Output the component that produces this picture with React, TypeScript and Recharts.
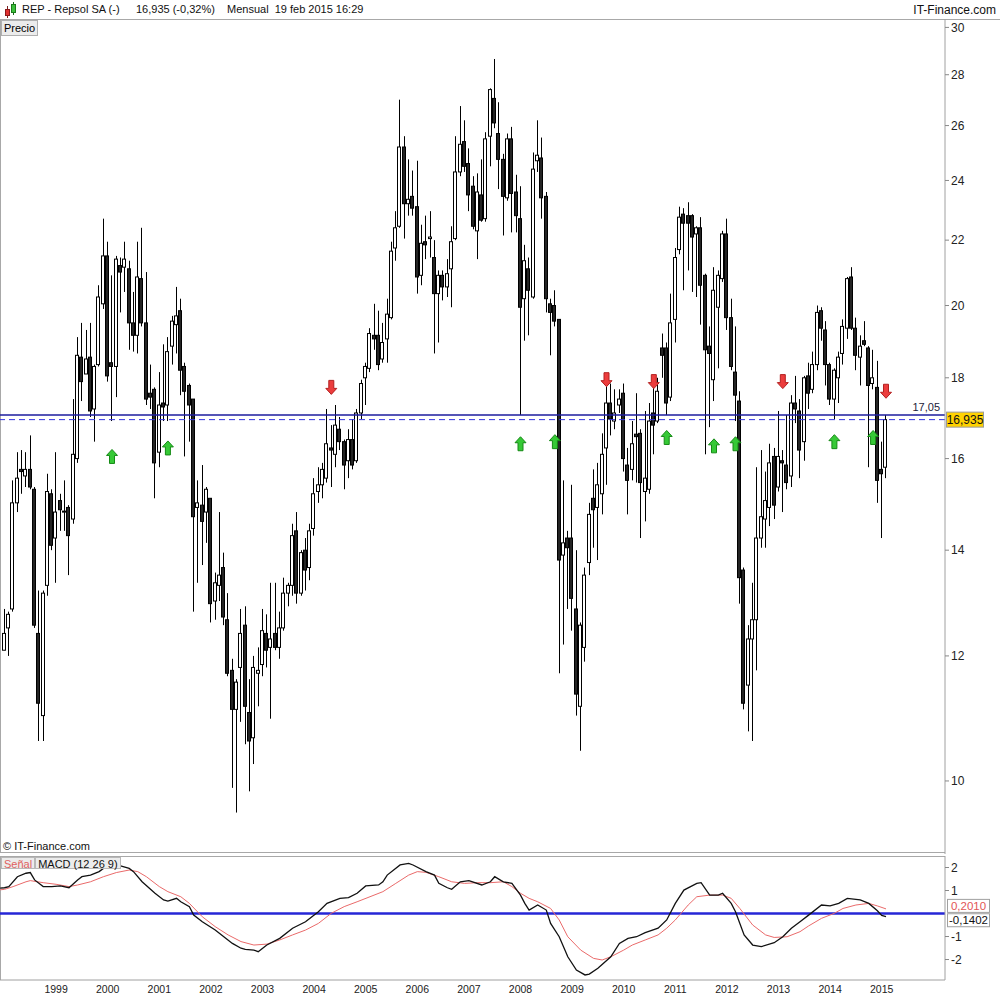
import React from "react";
import { ComposedChart, Bar, Scatter, Line, XAxis, YAxis, ReferenceLine } from "recharts";

const FONT = '"Liberation Sans", Arial, sans-serif';

// monthly candles, Jan 1998 .. Feb 2015 (index 1..206)
const opens = [
  12.1, 12.5, 12.85, 15.0, 15.75, 15.6, 15.75, 15.3, 12.4, 11.0,
  13.3, 15.2, 14.25, 15.05, 14.8, 14.9, 14.65, 16.0, 18.55, 18.1,
  18.55, 17.2, 18.35, 20.05, 21.5, 18.4, 18.3, 21.2, 21.15, 21.1,
  19.5, 19.15, 20.8, 19.5, 17.6, 17.7, 16.15, 17.35, 17.3, 18.85,
  19.45, 19.85, 18.3, 17.8, 17.45, 14.9, 14.95, 14.8, 15.1, 13.0,
  13.3, 13.65, 12.65, 11.75, 11.1, 11.8, 12.55, 11.05, 10.65, 11.7,
  11.85, 12.4, 12.15, 12.4, 12.15, 12.5, 13.15, 13.3, 14.4, 13.15,
  14.0, 13.65, 14.45, 15.25, 15.4, 15.55, 16.25, 16.1, 16.7, 16.4,
  15.95, 16.45, 15.95, 17.1, 18.0, 18.25, 19.15, 19.15, 18.5, 19.05,
  19.65, 21.75, 22.45, 25.2, 23.2, 23.45, 23.1, 20.9, 21.95, 22.05,
  21.45, 20.35, 20.9, 20.55, 21.1, 22.05, 24.3, 25.4, 24.6, 23.8,
  22.3, 23.5, 22.7, 25.6, 27.05, 25.7, 24.75, 23.4, 25.5, 23.6,
  22.7, 20.2, 21.1, 20.25, 24.7, 24.8, 23.45, 20.05, 20.0, 19.6,
  13.9, 14.25, 14.25, 12.85, 11.15, 12.15, 13.75, 15.1, 14.9, 15.2,
  16.25, 17.35, 16.9, 17.3, 17.6, 15.85, 15.75, 16.58, 16.6, 15.25,
  15.3, 17.1, 16.9, 18.8, 18.8, 17.5, 19.6, 21.7, 22.85, 22.8,
  22.8, 22.2, 22.4, 20.9, 18.85, 17.95, 19.95, 20.8, 22.2, 19.65,
  18.15, 17.4, 13.6, 11.5, 12.3, 12.65, 14.25, 14.65, 14.9, 16.05,
  15.35, 15.95, 15.85, 15.6, 17.35, 17.15, 16.4, 18.05, 17.7, 18.35,
  19.85, 19.3, 18.35, 17.45, 18.0, 18.65, 19.35, 20.85, 19.35, 18.55,
  19.0, 18.8, 17.85, 17.75, 15.75, 15.8,
];
const highs = [
  12.85, 12.8, 15.5, 16.15, 16.2, 16.15, 16.55, 15.35, 13.2, 13.2,
  15.65, 15.3, 16.15, 15.2, 15.5, 14.95, 17.45, 19.1, 19.5, 19.3,
  19.5, 18.35, 20.6, 22.7, 21.95, 20.9, 21.5, 21.45, 21.95, 21.35,
  20.4, 21.95, 22.4, 21.0, 18.35, 17.75, 18.15, 18.9, 19.1, 19.7,
  20.55, 20.2, 18.4, 17.85, 17.45, 15.5, 15.85, 15.35, 15.1, 13.55,
  14.8, 13.95, 13.15, 11.95, 11.6, 12.85, 12.9, 11.6, 12.0, 12.15,
  12.85, 12.75, 13.35, 13.35, 12.8, 13.45, 13.35, 14.55, 14.8, 14.0,
  14.25, 14.55, 15.55, 15.8, 15.9, 17.2, 16.8, 17.3, 17.0, 16.45,
  16.7, 16.95, 17.2, 17.95, 18.4, 19.35, 20.05, 19.85, 19.5, 20.2,
  21.95, 22.95, 27.0, 25.6, 24.75, 24.35, 24.7, 22.5, 22.8, 22.95,
  22.0, 21.05, 21.05, 21.4, 22.45, 25.6, 26.75, 26.2, 25.15, 24.15,
  24.25, 24.75, 25.75, 27.45, 28.65, 26.9, 24.95, 25.7, 25.95, 24.2,
  23.8, 21.85, 21.45, 25.0, 26.2, 25.55, 23.6, 20.2, 20.45, 19.6,
  15.5, 14.4, 15.4, 14.0, 12.6, 13.65, 15.0, 15.75, 15.9, 16.6,
  17.8, 17.85, 17.7, 17.7, 17.85, 16.25, 16.9, 17.6, 16.7, 17.15,
  17.35, 17.75, 18.0, 19.2, 18.95, 20.35, 21.75, 23.1, 23.05, 23.25,
  22.85, 22.45, 22.75, 20.95, 19.4, 21.15, 21.05, 22.3, 22.7, 20.2,
  19.4, 17.65, 13.65, 12.55, 13.35, 15.8, 16.2, 15.7, 16.35, 16.25,
  17.15, 16.2, 17.05, 17.55, 18.05, 17.45, 18.05, 18.4, 18.7, 20.0,
  19.95, 19.55, 18.4, 18.25, 18.7, 19.6, 20.85, 21.15, 19.65, 19.15,
  19.55, 18.85, 18.75, 18.45, 16.4, 17.05,
];
const lows = [
  12.1, 12.0, 12.8, 14.8, 15.2, 15.35, 15.3, 12.5, 10.6, 10.6,
  13.1, 14.0, 13.35, 14.4, 14.4, 13.5, 14.55, 15.9, 17.4, 18.1,
  17.0, 16.4, 18.3, 19.9, 17.9, 16.9, 17.5, 19.8, 20.4, 18.75,
  18.7, 18.65, 19.4, 17.3, 17.2, 15.1, 15.8, 16.9, 16.9, 18.35,
  18.65, 17.55, 16.05, 16.4, 12.8, 13.35, 13.7, 14.15, 12.6, 12.65,
  13.0, 12.55, 11.65, 9.9, 9.55, 10.9, 10.55, 9.85, 10.25, 11.15,
  11.65, 11.8, 10.95, 12.1, 11.95, 12.45, 12.9, 13.1, 12.95, 13.1,
  13.2, 13.4, 14.3, 15.0, 15.1, 15.45, 15.35, 15.8, 16.2, 15.3,
  15.55, 15.75, 15.9, 16.95, 17.3, 18.15, 18.75, 18.2, 18.4, 18.4,
  19.6, 21.35, 22.4, 22.05, 22.8, 22.8, 20.35, 20.6, 21.4, 21.45,
  18.65, 18.95, 20.15, 20.25, 19.95, 22.0, 24.15, 24.3, 22.95, 22.35,
  21.4, 22.6, 22.6, 24.5, 25.9, 23.7, 22.15, 23.3, 22.25, 22.25,
  17.05, 19.0, 19.15, 20.2, 24.3, 22.7, 19.8, 18.6, 19.4, 11.7,
  12.2, 12.85, 12.45, 11.0, 10.45, 11.9, 13.5, 14.05, 13.8, 14.75,
  15.4, 16.55, 16.7, 17.1, 15.7, 14.75, 15.5, 15.45, 14.25, 14.6,
  15.2, 16.1, 16.85, 18.0, 17.05, 17.4, 18.95, 21.55, 20.45, 21.05,
  20.4, 20.25, 19.45, 16.1, 16.75, 17.4, 18.25, 20.7, 19.3, 18.2,
  16.9, 12.95, 11.1, 10.75, 10.6, 11.75, 14.05, 14.05, 14.5, 14.65,
  15.25, 14.8, 15.3, 15.35, 16.85, 15.55, 15.95, 17.2, 17.6, 18.2,
  19.0, 17.8, 17.3, 16.95, 17.35, 18.35, 19.05, 19.3, 18.2, 17.8,
  18.85, 15.8, 17.7, 15.0, 14.25, 15.55,
];
const closes = [
  12.4, 12.75, 15.0, 15.55, 15.7, 15.75, 15.35, 12.55, 11.2, 13.15,
  15.25, 14.1, 14.8, 14.85, 14.82, 14.3, 16.1, 18.6, 17.9, 18.5,
  17.15, 18.3, 20.25, 21.5, 18.05, 18.3, 21.4, 21.0, 21.4, 19.5,
  19.15, 20.85, 19.5, 17.45, 17.5, 15.9, 17.3, 17.25, 18.7, 19.55,
  19.7, 18.2, 17.65, 17.3, 14.7, 15.0, 14.6, 15.3, 12.95, 13.35,
  13.5, 12.7, 11.7, 11.1, 11.55, 12.4, 11.15, 10.6, 11.8, 11.75,
  12.45, 12.1, 12.3, 12.15, 12.5, 13.15, 13.3, 14.3, 13.15, 13.95,
  13.6, 14.4, 15.2, 15.4, 15.75, 16.35, 16.2, 16.8, 16.4, 15.85,
  16.45, 15.85, 17.1, 17.85, 18.3, 19.2, 19.05, 18.35, 18.95, 19.75,
  21.65, 22.4, 25.2, 23.2, 23.35, 23.05, 20.85, 21.9, 21.85, 22.1,
  20.35, 20.9, 20.55, 20.95, 21.95, 24.3, 25.3, 24.5, 23.5, 22.45,
  23.6, 22.65, 25.5, 27.4, 26.1, 24.75, 23.45, 25.5, 23.55, 22.8,
  19.95, 21.35, 20.45, 24.4, 24.9, 23.4, 20.2, 19.8, 19.55, 13.8,
  14.15, 14.05, 13.05, 11.35, 12.55, 13.5, 14.75, 14.85, 15.4, 16.1,
  17.35, 16.95, 17.1, 17.45, 16.0, 15.5, 16.35, 16.52, 15.45, 15.55,
  16.9, 16.8, 17.65, 18.6, 17.35, 19.5, 21.45, 22.75, 22.55, 22.55,
  22.1, 22.4, 20.6, 18.75, 18.65, 20.45, 20.9, 22.2, 19.65, 18.3,
  17.55, 13.45, 11.2, 12.3, 12.65, 14.25, 14.7, 15.05, 15.9, 14.95,
  16.05, 15.9, 15.45, 17.35, 17.2, 16.2, 18.0, 17.6, 18.35, 19.8,
  19.35, 18.35, 17.45, 18.2, 18.55, 19.4, 20.8, 19.35, 18.6, 18.85,
  18.9, 17.8, 18.0, 15.5, 15.65, 16.935,
];

// signal arrows: [candle index, level]
const buySignals = [[26, 16.05], [39, 16.25], [121, 16.35], [129, 16.4], [155, 16.5], [166, 16.3], [171, 16.35], [194, 16.4], [203, 16.5]];
const sellSignals = [[77, 17.75], [141, 17.95], [152, 17.9], [182, 17.9], [206, 17.65]];

const refLevel = 17.05;
const lastPrice = 16.935;

// MACD (12 26 9): [candle index, value]
const macdLine = [
  [0, 1.1], [1, 1.12], [2, 1.17], [4, 1.6], [6, 1.75], [7, 1.78], [8, 1.46], [10, 1.17], [12, 1.17], [14, 1.2], [16, 1.12],
  [18, 1.46], [19, 1.6], [21, 1.67], [23, 1.82], [24, 1.96], [26, 2.04], [28, 2.07], [30, 1.96], [31, 1.82], [33, 1.38],
  [36, 0.88], [38, 0.59], [39, 0.54], [41, 0.66], [42, 0.51], [44, 0.3], [45, -0.07], [47, -0.36], [50, -0.72], [52, -1.01],
  [54, -1.3], [56, -1.51], [57, -1.56], [59, -1.59], [60, -1.66], [62, -1.37], [65, -1.08], [68, -0.64], [71, -0.36], [74, 0.08],
  [76, 0.44], [79, 0.66], [81, 0.69], [83, 0.88], [85, 1.2], [88, 1.24], [89, 1.38], [90, 1.67], [93, 2.11], [95, 2.18],
  [96, 2.11], [99, 1.82], [101, 1.67], [102, 1.31], [104, 1.12], [105, 1.05], [107, 1.38], [109, 1.43], [112, 1.24], [114, 1.38],
  [115, 1.6], [117, 1.38], [119, 1.31], [121, 0.8], [122, 0.44], [123, 0.15], [125, 0.37], [127, 0.15], [128, -0.43], [130, -1.01],
  [132, -1.88], [134, -2.46], [136, -2.67], [137, -2.63], [139, -2.38], [142, -1.88], [144, -1.3], [146, -1.08], [148, -1.01], [150, -0.83],
  [153, -0.64], [155, -0.28], [157, 0.44], [159, 1.02], [162, 1.31], [163, 1.34], [165, 0.8], [167, 0.8], [168, 0.88], [170, 0.44],
  [171, 0.08], [173, -0.93], [175, -1.37], [177, -1.44], [180, -1.27], [182, -1.01], [184, -0.64], [186, -0.36], [188, -0.07], [191, 0.37],
  [193, 0.33], [195, 0.44], [197, 0.66], [200, 0.59], [202, 0.44], [204, 0.12], [205, -0.08], [206, -0.1402],
];
const signalLine = [
  [0, 1.03], [1, 1.05], [3, 1.17], [6, 1.38], [7, 1.43], [10, 1.34], [13, 1.27], [16, 1.17], [18, 1.24], [21, 1.38], [24, 1.6],
  [27, 1.78], [30, 1.89], [32, 1.82], [34, 1.6], [37, 1.17], [39, 0.95], [42, 0.73], [44, 0.44], [47, -0.14], [50, -0.57],
  [53, -0.93], [56, -1.22], [59, -1.37], [62, -1.33], [65, -1.15], [68, -0.93], [71, -0.72], [74, -0.43], [77, 0.01], [80, 0.3],
  [83, 0.51], [86, 0.73], [89, 0.95], [92, 1.31], [95, 1.67], [97, 1.82], [99, 1.79], [102, 1.6], [105, 1.38], [108, 1.31],
  [111, 1.34], [114, 1.34], [117, 1.38], [119, 1.17], [121, 0.88], [123, 0.66], [125, 0.51], [128, 0.22], [130, -0.28], [132, -1.01],
  [135, -1.59], [138, -1.95], [140, -2.02], [142, -1.88], [145, -1.59], [147, -1.37], [150, -1.15], [153, -0.93], [155, -0.64], [157, -0.28],
  [160, 0.37], [162, 0.73], [165, 0.8], [168, 0.8], [170, 0.66], [172, 0.22], [175, -0.5], [178, -0.93], [180, -1.04], [183, -1.01],
  [186, -0.79], [188, -0.54], [191, -0.21], [194, 0.01], [196, 0.22], [199, 0.37], [202, 0.44], [204, 0.33], [206, 0.201],
];

const yearTicks = [13, 25, 37, 49, 61, 73, 85, 97, 109, 121, 133, 145, 157, 169, 181, 193, 205];
const yearLabels = ["1999", "2000", "2001", "2002", "2003", "2004", "2005", "2006", "2007", "2008", "2009", "2010", "2011", "2012", "2013", "2014", "2015"];
const priceTicks = [10, 12, 14, 16, 18, 20, 22, 24, 26, 28, 30];
const macdTicks = [-2, -1, 1, 2];

const X_DOMAIN: [number, number] = [-0.0465, 219.72];

const candles = opens.map((o, k) => ({ i: k + 1, o, h: highs[k], l: lows[k], c: closes[k], range: [lows[k], highs[k]] }));
const buyData = buySignals.map(([i, v]) => ({ i, v }));
const sellData = sellSignals.map(([i, v]) => ({ i, v }));
const macdData = macdLine.map(([i, v]) => ({ i, v }));
const signalData = signalLine.map(([i, v]) => ({ i, v }));

const comma = (v: number, d?: number) => (d === undefined ? String(v) : v.toFixed(d)).replace(".", ",");

// candle drawn inside the [low, high] bar that recharts positions on the log axis
const Candle = (props: any) => {
  const { x, y, width, height, payload } = props;
  if (x == null || y == null) return null;
  const cx = Math.floor(x + width / 2) + 0.5;
  const lh = Math.log(payload.h);
  const ll = Math.log(payload.l);
  const span = lh - ll;
  const toY = (v: number) => (span > 0 ? y + (height * (lh - Math.log(v))) / span : y);
  const yo = toY(payload.o);
  const yc = toY(payload.c);
  const top = Math.min(yo, yc);
  const bot = Math.max(yo, yc);
  const up = payload.c >= payload.o;
  return (
    <g>
      <line x1={cx} x2={cx} y1={y} y2={y + height} stroke="#000" strokeWidth={1} />
      <rect x={cx - 2} y={top} width={3} height={Math.max(bot - top, 1)} fill={up ? "#fff" : "#242424"} stroke="#000" strokeWidth={1} />
    </g>
  );
};

const UpArrow = (props: any) => {
  const { cx, cy } = props;
  const d = `M${cx} ${cy - 7} L${cx + 5.5} ${cy - 1} L${cx + 2.5} ${cy - 1} L${cx + 2.5} ${cy + 7} L${cx - 2.5} ${cy + 7} L${cx - 2.5} ${cy - 1} L${cx - 5.5} ${cy - 1} Z`;
  return <path d={d} fill="#36c936" stroke="#168a16" strokeWidth={1} />;
};

const DownArrow = (props: any) => {
  const { cx, cy } = props;
  const d = `M${cx} ${cy + 7} L${cx + 5.5} ${cy + 1} L${cx + 2.5} ${cy + 1} L${cx + 2.5} ${cy - 7} L${cx - 2.5} ${cy - 7} L${cx - 2.5} ${cy + 1} L${cx - 5.5} ${cy + 1} Z`;
  return <path d={d} fill="#ec3d3d" stroke="#b32020" strokeWidth={1} />;
};

const refTag = (p: any) => {
  const vb = p.viewBox;
  return (
    <text x={vb.x + vb.width - 5} y={vb.y - 4} textAnchor="end" fontSize={11} fill="#22223a" fontFamily={FONT}>
      {comma(refLevel)}
    </text>
  );
};

const priceTag = (p: any) => {
  const vb = p.viewBox;
  const left = vb.x + vb.width + 1.5;
  return (
    <g>
      <rect x={left} y={vb.y - 7.5} width={37} height={15} fill="#ffd200" stroke="#9a9a9a" />
      <text x={left + 18.5} y={vb.y + 4.5} textAnchor="middle" fontSize={12} fill="#111" fontFamily={FONT}>
        {comma(lastPrice)}
      </text>
    </g>
  );
};

const macdLast = macdLine[macdLine.length - 1][1];
const signalLast = signalLine[signalLine.length - 1][1];

// value tag at the right axis; shift moves the box so both tags stay readable
const makeValueTag = (value: number, color: string, shift: number) => (p: any) => {
  const vb = p.viewBox;
  const left = vb.x + vb.width + 2.5;
  const cy = vb.y + shift;
  return (
    <g>
      <rect x={left} y={cy - 6.5} width={42} height={13} fill="#fff" stroke="#a0a0a0" />
      <text x={left + 21} y={cy + 4} textAnchor="middle" fontSize={11.5} fill={color} fontFamily={FONT}>
        {comma(value, 4)}
      </text>
    </g>
  );
};

const axisTick = { fontSize: 12, fill: "#222", fontFamily: FONT };

function Header() {
  return (
    <div style={{ position: "absolute", left: 0, top: 0, width: 1000, height: 19, borderBottom: "1px solid #a8a8a8", fontSize: 11, color: "#111" }}>
      <svg width={16} height={18} style={{ position: "absolute", left: 2, top: 1 }}>
        <line x1={5.5} x2={5.5} y1={5} y2={17} stroke="#7a2020" />
        <rect x={3.5} y={8.5} width={4} height={6} fill="#e03030" stroke="#8a1a1a" />
        <line x1={11.5} x2={11.5} y1={1} y2={14} stroke="#1a6a1a" />
        <rect x={9.5} y={3.5} width={4} height={8} fill="#3cc03c" stroke="#1a7a1a" />
      </svg>
      <span style={{ position: "absolute", left: 22, top: 3 }}>REP - Repsol SA (-)</span>
      <span style={{ position: "absolute", left: 136, top: 3 }}>16,935 (-0,32%)</span>
      <span style={{ position: "absolute", left: 227, top: 3 }}>Mensual&nbsp;&nbsp;19 feb 2015 16:29</span>
      <span style={{ position: "absolute", right: 4, top: 3, fontSize: 12 }}>IT-Finance.com</span>
    </div>
  );
}

export default function App() {
  return (
    <div style={{ position: "absolute", left: 0, top: 0, width: 1000, height: 1000, background: "#fff", fontFamily: FONT, overflow: "hidden" }}>
      <Header />

      {/* price panel */}
      <div style={{ position: "absolute", left: 0, top: 19, width: 945, height: 834, borderLeft: "1px solid #a8a8a8", borderBottom: "1px solid #a8a8a8", boxSizing: "border-box" }} />
      <div style={{ position: "absolute", left: 0, top: 19 }}>
        <ComposedChart width={1000} height={835} data={candles} margin={{ top: 0, right: 0, bottom: 0, left: 0 }}>
          <XAxis type="number" dataKey="i" domain={X_DOMAIN} allowDataOverflow hide />
          <YAxis
            orientation="right"
            scale="log"
            domain={[8.99, 30.37]}
            allowDataOverflow
            ticks={priceTicks}
            interval={0}
            width={55}
            tick={axisTick}
            tickSize={4}
            tickMargin={2}
            tickLine={{ stroke: "#888" }}
            axisLine={{ stroke: "#a0a0a0" }}
          />
          <ReferenceLine y={refLevel} stroke="#1c1c9e" strokeWidth={1.5} label={refTag} />
          <ReferenceLine y={lastPrice} stroke="#3434e0" strokeWidth={1} strokeDasharray="6 4" label={priceTag} />
          <Bar dataKey="range" barSize={4} shape={(p: any) => <Candle {...p} />} isAnimationActive={false} />
          <Scatter data={buyData} dataKey="v" shape={(p: any) => <UpArrow {...p} />} isAnimationActive={false} />
          <Scatter data={sellData} dataKey="v" shape={(p: any) => <DownArrow {...p} />} isAnimationActive={false} />
        </ComposedChart>
      </div>
      <div style={{ position: "absolute", left: 1, top: 20, width: 33, height: 14, background: "#ececec", border: "1px solid #b0b0b0", fontSize: 11, lineHeight: "14px", paddingLeft: 2, boxSizing: "content-box" }}>Precio</div>
      <div style={{ position: "absolute", left: 3, top: 840, fontSize: 11, color: "#111" }}>© IT-Finance.com</div>

      {/* MACD panel */}
      <div style={{ position: "absolute", left: 0, top: 856, width: 945, height: 124, borderLeft: "1px solid #a8a8a8", borderTop: "1px solid #a8a8a8", boxSizing: "border-box" }} />
      <div style={{ position: "absolute", left: 0, top: 856 }}>
        <ComposedChart width={1000} height={144} margin={{ top: 0, right: 0, bottom: 0, left: 0 }}>
          <XAxis
            type="number"
            dataKey="i"
            domain={X_DOMAIN}
            allowDataOverflow
            ticks={yearTicks}
            interval={0}
            tickFormatter={(v: number) => yearLabels[yearTicks.indexOf(v)] ?? ""}
            height={20}
            tickLine={false}
            tickSize={4}
            axisLine={{ stroke: "#a0a0a0" }}
            tick={{ fontSize: 10.5, fill: "#222", fontFamily: FONT }}
          />
          <YAxis
            orientation="right"
            domain={[-2.89, 2.5]}
            allowDataOverflow
            ticks={macdTicks}
            interval={0}
            width={55}
            tick={axisTick}
            tickSize={4}
            tickMargin={2}
            tickLine={{ stroke: "#888" }}
            axisLine={{ stroke: "#a0a0a0" }}
          />
          <ReferenceLine y={0} stroke="#2626d6" strokeWidth={2.5} />
          <Line data={signalData} dataKey="v" type="linear" stroke="#ea6a6a" strokeWidth={1} dot={false} isAnimationActive={false} />
          <Line data={macdData} dataKey="v" type="linear" stroke="#111" strokeWidth={1.3} dot={false} isAnimationActive={false} />
          <ReferenceLine y={macdLast} stroke="none" label={makeValueTag(macdLast, "#111", 3.5)} />
          <ReferenceLine y={signalLast} stroke="none" label={makeValueTag(signalLast, "#e25555", -3)} />
        </ComposedChart>
      </div>
      <div style={{ position: "absolute", left: 1, top: 857, height: 12, display: "flex", fontSize: 11, lineHeight: "12px" }}>
        <span style={{ background: "#ececec", border: "1px solid #b8b8b8", color: "#e06060", padding: "0 2px" }}>Señal</span>
        <span style={{ background: "#ececec", border: "1px solid #b8b8b8", color: "#111", padding: "0 2px" }}>MACD (12 26 9)</span>
      </div>
    </div>
  );
}
